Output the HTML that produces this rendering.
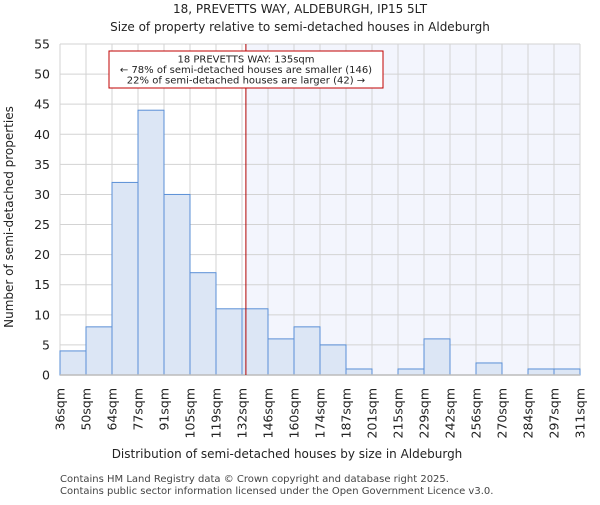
<!DOCTYPE html>
<html><head><meta charset="utf-8"><style>
body{margin:0;background:#fff;}
svg{font-family:"DejaVu Sans","Liberation Sans",sans-serif;}
</style></head><body>
<svg id="chart" width="600" height="500" xmlns="http://www.w3.org/2000/svg">
<text x="300" y="13" text-anchor="middle" font-size="12" fill="#222">18, PREVETTS WAY, ALDEBURGH, IP15 5LT</text>
<text x="300" y="31" text-anchor="middle" font-size="12" fill="#222">Size of property relative to semi-detached houses in Aldeburgh</text>
<g id="grid"></g><g id="bars"></g><g id="axes"></g>
<text x="287" y="458" text-anchor="middle" font-size="12" fill="#222">Distribution of semi-detached houses by size in Aldeburgh</text>
<text transform="translate(13,217) rotate(-90)" text-anchor="middle" font-size="12" fill="#222">Number of semi-detached properties</text>
<text x="60" y="482" font-size="10" fill="#444">Contains HM Land Registry data © Crown copyright and database right 2025.</text>
<text x="60" y="494" font-size="10" fill="#444">Contains public sector information licensed under the Open Government Licence v3.0.</text>
</svg>
<script>
const binLabels=["36sqm","50sqm","64sqm","77sqm","91sqm","105sqm","119sqm","132sqm","146sqm","160sqm","174sqm","187sqm","201sqm","215sqm","229sqm","242sqm","256sqm","270sqm","284sqm","297sqm","311sqm"];
const counts=[4,8,32,44,30,17,11,11,6,8,5,1,0,1,6,0,2,0,1,1];
const yTicks=[0,5,10,15,20,25,30,35,40,45,50,55];
const markerBin=7.15;
const NS="http://www.w3.org/2000/svg";
const L=60,R=580,T=44,B=375,YMAX=55;
const bw=(R-L)/counts.length;
const xs=i=>L+i*bw;
const ys=v=>B-v/YMAX*(B-T);
function mk(p,t,a){const e=document.createElementNS(NS,t);for(const k in a)e.setAttribute(k,a[k]);p.appendChild(e);return e;}
const g=document.getElementById('grid'),b=document.getElementById('bars'),ax=document.getElementById('axes');
const mx=xs(markerBin);
const shade=mk(g,'rect',{x:mx,y:T,width:R-mx,height:B-T,fill:'#f3f5fd'});


for(let i=0;i<binLabels.length;i++){const gl=mk(g,'line',{x1:xs(i),x2:xs(i),y1:T,y2:B,stroke:'#d3d3d3','stroke-width':1});

}
yTicks.forEach(v=>{const gl=mk(g,'line',{x1:L,x2:R,y1:ys(v),y2:ys(v),stroke:'#d3d3d3','stroke-width':1});


const t=mk(ax,'text',{x:L-10,y:ys(v)+4.5,'text-anchor':'end','font-size':12.5,fill:'#222'});t.textContent=v;

});
counts.forEach((c,i)=>{if(c<=0)return;const r=mk(b,'rect',{x:xs(i),y:ys(c),width:bw,height:B-ys(c),fill:'#dce6f5',stroke:'#5a8fd6','stroke-width':1});

});
binLabels.forEach((s,i)=>{const t=mk(ax,'text',{transform:`translate(${xs(i)+4.5},388) rotate(-90)`,'text-anchor':'end','font-size':12.5,fill:'#222'});t.textContent=s;

});
const bl=mk(ax,'line',{x1:L,x2:R,y1:B,y2:B,stroke:'#bbb','stroke-width':1.5});


const ml=mk(ax,'line',{x1:mx,x2:mx,y1:T,y2:B,stroke:'#b00000','stroke-width':1});


const box=mk(ax,'rect',{x:109,y:51,width:274,height:37,fill:'#fff',stroke:'#c00000','stroke-width':1});


["18 PREVETTS WAY: 135sqm","← 78% of semi-detached houses are smaller (146)","22% of semi-detached houses are larger (42) →"].forEach((s,i)=>{const t=mk(ax,'text',{x:246,y:62.5+i*10.5,'text-anchor':'middle','font-size':10,fill:'#222'});t.textContent=s;

});
</script>
</body></html>
